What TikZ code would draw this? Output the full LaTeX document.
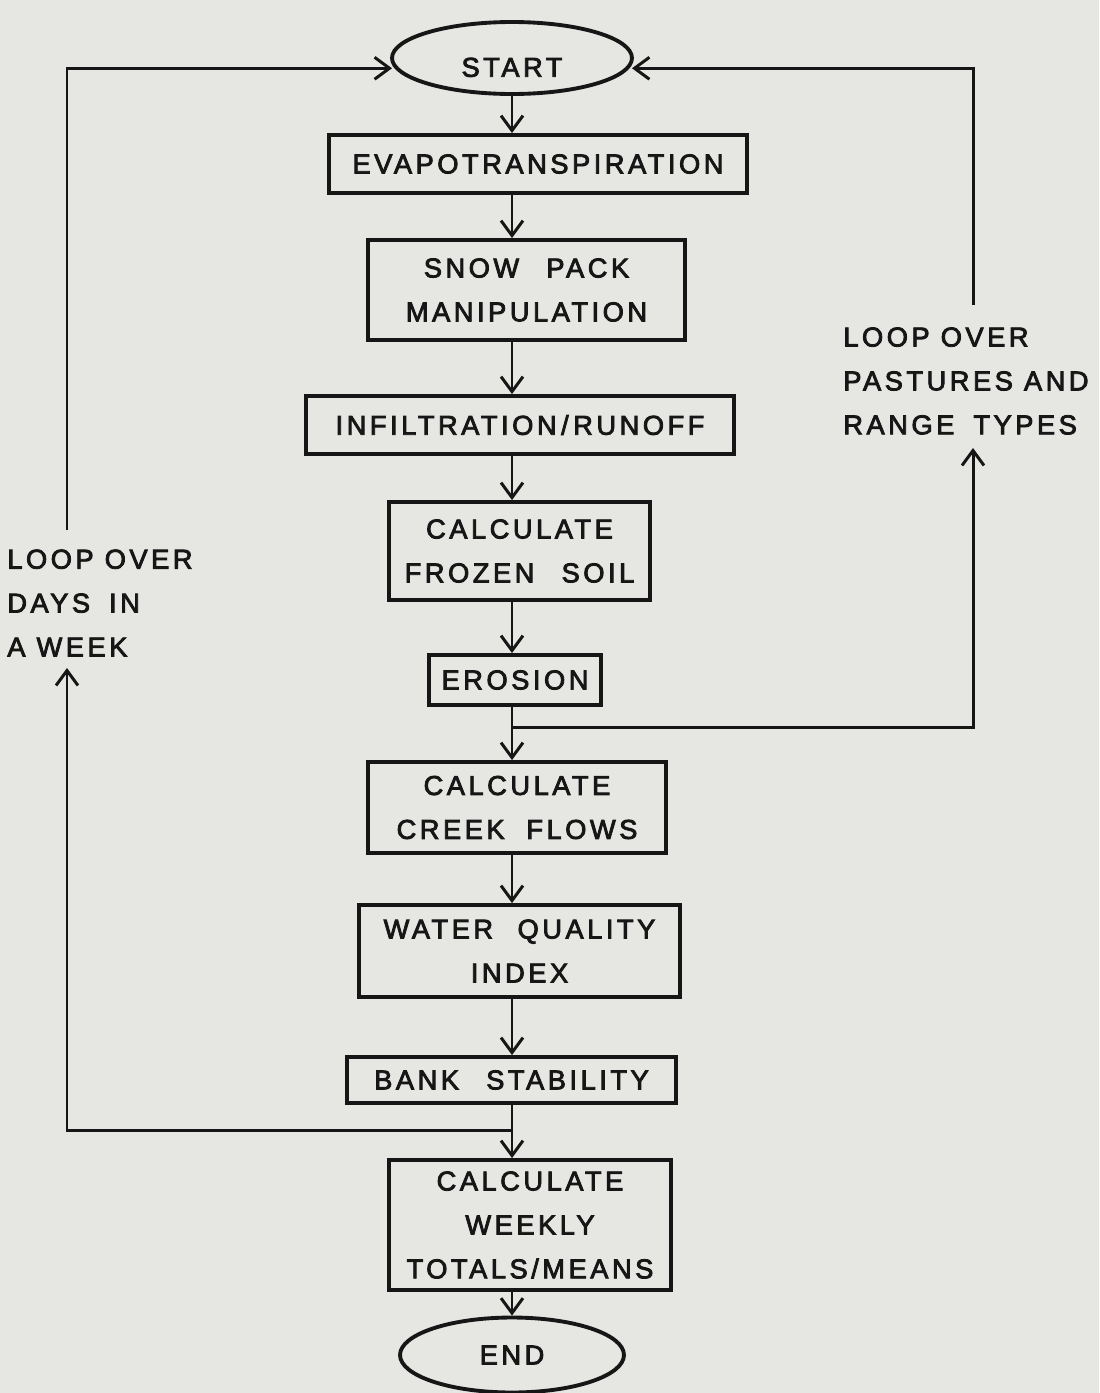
\documentclass[tikz,border=0pt]{standalone}
\usepackage{fontspec}
\setmainfont{Liberation Sans}[LetterSpace=13,FakeBold=3]
\usetikzlibrary{arrows.meta,shapes.geometric}
\definecolor{paper}{RGB}{230,230,227}
\definecolor{ink}{RGB}{22,22,22}
\begin{document}
\begin{tikzpicture}[x=0.02cm,y=-0.02cm,
  txt/.style={text=ink,font=\fontsize{15.5pt}{25pt}\selectfont},
  box/.style={txt,draw=ink,line width=2.2pt,rectangle,inner sep=0pt,align=center},
  ell/.style={txt,draw=ink,line width=2.2pt,ellipse,inner sep=0pt},
  lbl/.style={txt,align=left,inner sep=0pt},
  arr/.style={draw=ink,line width=1.7pt,-{Straight Barb[length=8.5pt,width=12.5pt]}}]
\fill[paper] (0,0) rectangle (1099,1393);
\useasboundingbox (0,0) rectangle (1099,1393);

\node[ell,minimum width=4.8cm,minimum height=1.44cm] (start) at (512,58) {\raisebox{-0.18cm}[0.39cm][0cm]{START}};
\node[box,minimum width=8.36cm,minimum height=1.16cm] (evap) at (538,164) {EVAPOTRANSPIRATION};
\node[box,minimum width=6.34cm,minimum height=2.0cm] (snow) at (526.5,290) {SNOW\hspace{1em}PACK\\MANIPULATION};
\node[box,minimum width=8.56cm,minimum height=1.16cm] (infil) at (520,425) {INFILTRATION\,/\,RUNOFF};
\node[box,minimum width=5.22cm,minimum height=1.96cm] (frozen) at (519.5,551) {CALCULATE\\FROZEN\hspace{1em}SOIL};
\node[box,minimum width=3.44cm,minimum height=1.0cm] (erosion) at (515,680) {EROSION};
\node[box,minimum width=5.96cm,minimum height=1.82cm] (creek) at (517,807.5) {CALCULATE\\CREEK\hspace{0.8em}FLOWS};
\node[box,minimum width=6.42cm,minimum height=1.84cm] (water) at (519.5,951) {WATER\hspace{0.9em}QUALITY\\INDEX};
\node[box,minimum width=6.58cm,minimum height=0.92cm] (bank) at (511.5,1080) {BANK\hspace{1em}STABILITY};
\node[box,minimum width=5.64cm,minimum height=2.6cm] (totals) at (530,1225) {CALCULATE\\WEEKLY\\TOTALS/MEANS};
\node[ell,minimum width=4.48cm,minimum height=1.5cm] (end) at (512,1355) {END};

\node[lbl,anchor=west] (ldays) at (7,603) {LOOP OVER\\DAYS\hspace{0.7em}IN\\A WEEK};
\node[lbl,anchor=west] (lpast) at (843,381) {LOOP OVER\\PASTURES AND\\RANGE\hspace{0.7em}TYPES};

\coordinate (j1) at (513,1130);
\coordinate (j2) at (513,727);
\coordinate (lA) at (67,530);
\coordinate (lB) at (67,668);
\coordinate (rA) at (973,305);
\coordinate (rB) at (973,448);

\draw[arr] (start.south) -- (start.south |- evap.north);
\draw[arr] (evap.south -| start.south) -- (snow.north -| start.south);
\draw[arr] (snow.south -| start.south) -- (infil.north -| start.south);
\draw[arr] (infil.south -| start.south) -- (frozen.north -| start.south);
\draw[arr] (frozen.south -| start.south) -- (erosion.north -| start.south);
\draw[arr] (erosion.south -| start.south) -- (creek.north -| start.south);
\draw[arr] (creek.south -| start.south) -- (water.north -| start.south);
\draw[arr] (water.south -| start.south) -- (bank.north -| start.south);
\draw[arr] (bank.south -| start.south) -- (totals.north -| start.south);
\draw[arr] (totals.south -| start.south) -- (end.north);

\draw[arr] (j2) -| (rB);
\draw[arr,shorten >=1.5pt] (rA) |- (start.-5);
\draw[arr] (j1) -| (lB);
\draw[arr,shorten >=1.5pt] (lA) |- (start.185);
\end{tikzpicture}
\end{document}
